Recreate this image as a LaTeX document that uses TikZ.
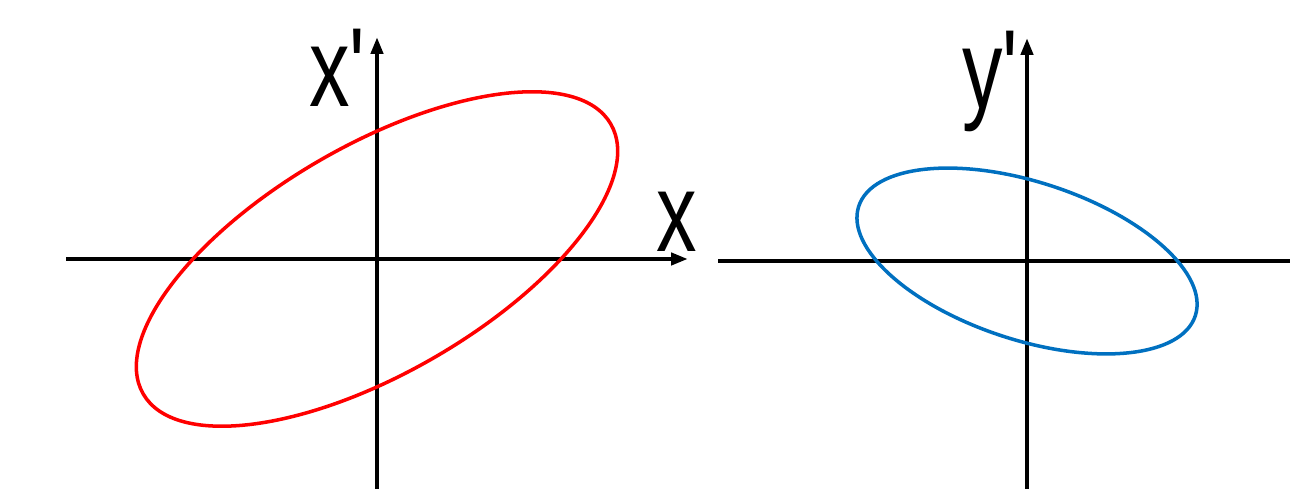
\documentclass[tikz,border=0pt]{standalone}
\usepackage{fontspec}
\newfontfamily\lblfont{Liberation Sans}
\usetikzlibrary{arrows.meta}
\definecolor{ellred}{RGB}{255,0,0}
\definecolor{ellblue}{RGB}{0,112,192}

\begin{document}
\begin{tikzpicture}[x=0.02cm,y=0.02cm,>={Triangle[length=3.4mm,width=2.4mm]},
  axisline/.style={line width=2.4pt},
  ell/.style={line width=2pt},
  lbl/.style={font=\lblfont\fontsize{64}{64}\selectfont,xscale=0.72,anchor=base,inner sep=0pt}]
\useasboundingbox (0,0) rectangle (1290,489);
\coordinate (o1) at (377,230);
\coordinate (o2) at (1027,228);
\coordinate (xa) at (66,230);
\coordinate (xb) at (688,230);
\coordinate (xpa) at (377,0);
\coordinate (xpb) at (377,452);
\coordinate (ya) at (718,228);
\coordinate (yb) at (1290,228);
\coordinate (ypa) at (1027,0);
\coordinate (ypb) at (1027,451);
\draw[axisline,->](xa)--(xb);
\draw[axisline,->](xpa)--(xpb);
\draw[axisline](ya)--(yb);
\draw[axisline,->](ypa)--(ypb);
\draw[ell,ellred,rotate around={30:(o1)}](o1) ellipse[x radius=5.4cm,y radius=2.28cm];
\draw[ell,ellblue,rotate around={-18:(o2)}](o2) ellipse[x radius=3.54cm,y radius=1.58cm];
\node[lbl] (lx) at(677,237){x};
\node[lbl] (lxp) at(337,382){x\textquotesingle};
\node[lbl] (lyp) at(990,380){y\textquotesingle};
\end{tikzpicture}
\end{document}
